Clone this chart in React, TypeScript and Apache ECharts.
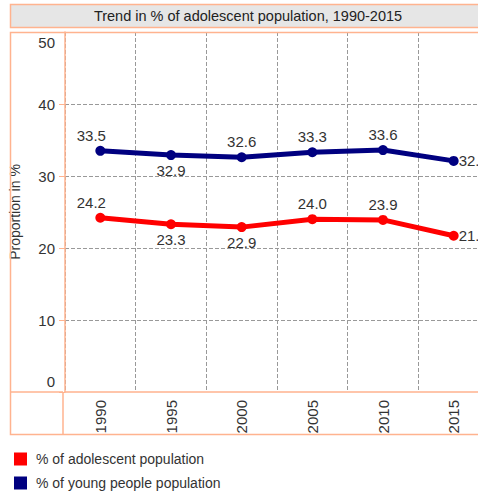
import React, { useEffect, useRef } from "react";
import * as echarts from "echarts";

const years = ["1990", "1995", "2000", "2005", "2010", "2015"];
const adolescent = [24.2, 23.3, 22.9, 24.0, 23.9, 21.7];
const young = [33.5, 32.9, 32.6, 33.3, 33.6, 32.1];
const adolescentLabelPos = ["top", "bottom", "bottom", "top", "top", "right"];
const youngLabelPos = ["top", "bottom", "top", "top", "top", "right"];
const yTicks = [0, 10, 20, 30, 40, 50];

const FONT = "'Liberation Sans', Arial, sans-serif";
const ORANGE = "#ffb38f";
const TEXT = "#333333";

export default function App() {
  const ref = useRef<HTMLDivElement>(null);
  useEffect(() => {
    if (!ref.current) return;
    const chart = echarts.init(ref.current, null, { renderer: "svg" });
    const mk = (vals: number[], pos: string[]) =>
      vals.map((v, i) => ({
        value: v,
        label: {
          position: pos[i],
          offset: i === 0 ? [-9, 0] : [0, 0],
          distance: pos[i] === "right" ? 0 : 3,
        },
      }));
    const labelStyle = {
      show: true,
      fontSize: 15,
      color: TEXT,
      fontFamily: FONT,
      formatter: (p: any) => Number(p.value).toFixed(1),
    };
    chart.setOption({
      animation: false,
      textStyle: { fontFamily: FONT },
      title: {
        text: "Trend in % of adolescent population, 1990-2015",
        left: "center",
        top: 8,
        padding: 0,
        textStyle: { fontSize: 14.5, fontWeight: "normal", color: "#222", fontFamily: FONT },
      },
      legend: {
        orient: "vertical",
        left: 14,
        top: 452,
        padding: 0,
        itemWidth: 13,
        itemHeight: 13,
        itemGap: 10,
        icon: "rect",
        textStyle: { fontSize: 14, color: TEXT, fontFamily: FONT, padding: [0, 0, 0, 4] },
        data: ["% of adolescent population", "% of young people population"],
      },
      grid: { left: 63, top: 32, width: 426, height: 360, containLabel: false },
      xAxis: {
        type: "category",
        data: years,
        boundaryGap: true,
        axisLine: { lineStyle: { color: ORANGE, width: 1.5 } },
        axisTick: { show: false },
        axisLabel: { rotate: 90, fontSize: 15, color: TEXT, margin: 8, fontFamily: FONT },
        splitLine: { show: true, lineStyle: { color: "#999", type: "dashed", width: 1 } },
      },
      yAxis: {
        type: "value",
        min: yTicks[0],
        max: yTicks[yTicks.length - 1],
        interval: 10,
        name: "Proportion in %",
        nameLocation: "middle",
        nameGap: 43,
        nameTextStyle: { fontSize: 14, color: TEXT, fontFamily: FONT },
        axisLine: { show: true, lineStyle: { color: ORANGE, width: 1.5 } },
        axisTick: { show: true, length: 6, lineStyle: { color: ORANGE } },
        axisLabel: {
          fontSize: 15,
          color: TEXT,
          margin: 10,
          fontFamily: FONT,
          formatter: (v: number) =>
            v === 50 ? "{t|50}" : v === 0 ? "{b|0}" : String(v),
          rich: {
            t: { fontSize: 15, color: TEXT, fontFamily: FONT, padding: [20, 0, 0, 0] },
            b: { fontSize: 15, color: TEXT, fontFamily: FONT, padding: [0, 0, 22, 0] },
          },
        },
        splitLine: {
          show: true,
          showMinLine: false,
          showMaxLine: false,
          lineStyle: { color: "#999", type: "dashed", width: 1 },
        },
      },
      series: [
        {
          name: "% of adolescent population",
          type: "line",
          data: mk(adolescent, adolescentLabelPos),
          color: "#ff0000",
          lineStyle: { width: 5, color: "#ff0000" },
          symbol: "circle",
          symbolSize: 10,
          label: labelStyle,
        },
        {
          name: "% of young people population",
          type: "line",
          data: mk(young, youngLabelPos),
          color: "#000080",
          lineStyle: { width: 5, color: "#000080" },
          symbol: "circle",
          symbolSize: 10,
          label: labelStyle,
        },
      ],
      graphic: [
        {
          type: "rect",
          z: -1,
          shape: { x: 10.5, y: 4.5, width: 478, height: 23 },
          style: { fill: "#e6e6e6", stroke: ORANGE, lineWidth: 1.5 },
        },
        {
          type: "rect",
          z: 10,
          shape: { x: 10.5, y: 32.5, width: 478, height: 402 },
          style: { fill: null, stroke: ORANGE, lineWidth: 1.5 },
        },
        {
          type: "line",
          z: 10,
          shape: { x1: 10, y1: 392, x2: 63, y2: 392 },
          style: { stroke: ORANGE, lineWidth: 1.5 },
        },
        {
          type: "line",
          z: 10,
          shape: { x1: 63, y1: 392, x2: 63, y2: 434 },
          style: { stroke: ORANGE, lineWidth: 1.5 },
        },
      ],
    });
    return () => chart.dispose();
  }, []);
  return (
    <div
      style={{
        position: "fixed",
        left: 0,
        top: 0,
        width: 478,
        height: 493,
        overflow: "hidden",
        background: "#fff",
      }}
    >
      <div ref={ref} style={{ width: 496, height: 493 }} />
    </div>
  );
}
